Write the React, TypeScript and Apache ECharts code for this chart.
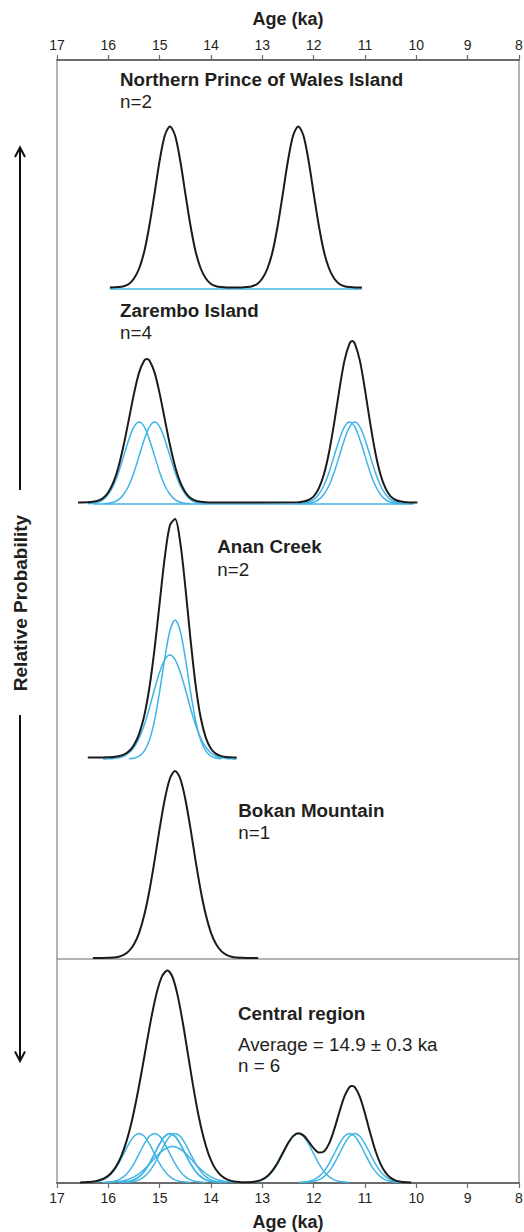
import React, { useEffect, useRef } from "react";
import * as echarts from "echarts";

const FONT = '"Liberation Sans", Arial, Helvetica, sans-serif';
const TEXT_COLOR = "#231f20";
const BLACK = "#1b1b1b";
const BLUE = "#3fb4e6";
const FRAME = "#6b6b6b";

// ---------------- Data (ages in ka, relative probability) ----------------

// Northern Prince of Wales Island (n=2)
const npwAges = [15.97, 15.8, 15.7, 15.6, 15.5, 15.4, 15.3, 15.2, 15.1, 15.0, 14.9, 14.8, 14.7, 14.6, 14.5, 14.4, 14.3, 14.2, 14.1, 14.0, 13.9, 13.8, 13.7, 13.4, 13.3, 13.2, 13.1, 13.0, 12.9, 12.8, 12.7, 12.6, 12.5, 12.4, 12.3, 12.2, 12.1, 12.0, 11.9, 11.8, 11.7, 11.6, 11.5, 11.4, 11.3, 11.2, 11.06];
const npwSum = [0, 0.4, 1.3, 3.5, 9, 19, 36, 62, 94, 127, 152, 161, 152, 127, 94, 62, 36, 19, 9, 3.5, 1.3, 0.4, 0, 0, 0.4, 1.3, 3.5, 9, 19, 36, 62, 94, 127, 152, 161, 152, 127, 94, 62, 36, 19, 9, 3.5, 1.3, 0.4, 0, 0];
const npwBaseAges = [15.97, 11.06];
const npwBaseValues = [0, 0];

// Zarembo Island (n=4)
const zarSumAges = [16.59, 16.4, 16.3, 16.2, 16.1, 16.0, 15.9, 15.8, 15.7, 15.6, 15.5, 15.4, 15.3, 15.25, 15.2, 15.1, 15.0, 14.9, 14.8, 14.7, 14.6, 14.5, 14.4, 14.3, 14.2, 14.1, 14.0, 12.3, 12.2, 12.1, 12.0, 11.9, 11.8, 11.7, 11.6, 11.5, 11.4, 11.3, 11.25, 11.2, 11.1, 11.0, 10.9, 10.8, 10.7, 10.6, 10.5, 10.4, 10.3, 10.2, 10.1, 9.98];
const zarSum = [0, 0.2, 0.7, 1.9, 4.6, 10.3, 20.3, 36.1, 57.7, 83.1, 108.9, 130.1, 141.9, 143.5, 141.9, 130.1, 108.9, 83.1, 57.7, 36.1, 20.3, 10.3, 4.6, 1.9, 0.7, 0.2, 0, 0.3, 0.9, 2.5, 6.2, 14.1, 28.2, 50.2, 79.7, 112.7, 141.9, 159.2, 161.5, 159.2, 141.9, 112.7, 79.7, 50.2, 28.2, 14.1, 6.2, 2.5, 0.9, 0.3, 0, 0];
const zarBaseAges = [16.3, 10.05];
const zarBaseValues = [0, 0];
const zarSampleAges1 = [16.4, 16.3, 16.2, 16.1, 16.0, 15.9, 15.8, 15.7, 15.6, 15.5, 15.4, 15.3, 15.2, 15.1, 15.0, 14.9, 14.8, 14.7, 14.6, 14.5, 14.4];
const zarSampleAges2 = [16.1, 16.0, 15.9, 15.8, 15.7, 15.6, 15.5, 15.4, 15.3, 15.2, 15.1, 15.0, 14.9, 14.8, 14.7, 14.6, 14.5, 14.4, 14.3, 14.2, 14.1];
const zarSampleAges3 = [12.3, 12.2, 12.1, 12.0, 11.9, 11.8, 11.7, 11.6, 11.5, 11.4, 11.3, 11.2, 11.1, 11.0, 10.9, 10.8, 10.7, 10.6, 10.5, 10.4, 10.3];
const zarSampleAges4 = [12.2, 12.1, 12.0, 11.9, 11.8, 11.7, 11.6, 11.5, 11.4, 11.3, 11.2, 11.1, 11.0, 10.9, 10.8, 10.7, 10.6, 10.5, 10.4, 10.3, 10.2];
const zarSampleValues = [0.2, 0.7, 1.8, 4.4, 9.7, 18.5, 31.7, 48.1, 64.6, 77.2, 82, 77.2, 64.6, 48.1, 31.7, 18.5, 9.7, 4.4, 1.8, 0.7, 0.2];

// Anan Creek (n=2)
const ananSumAges = [16.4, 16.1, 16.0, 15.9, 15.8, 15.7, 15.6, 15.5, 15.4, 15.3, 15.2, 15.1, 15.0, 14.9, 14.8, 14.7, 14.6, 14.5, 14.4, 14.3, 14.2, 14.1, 14.0, 13.9, 13.8, 13.7, 13.6, 13.5];
const ananSum = [0, 0, 0.2, 0.5, 1.2, 2.8, 6.2, 12.6, 23.7, 41.9, 69.8, 108.3, 154.7, 200.3, 232.3, 238.4, 215.3, 170.6, 118.7, 72.7, 39.7, 19.6, 8.8, 3.6, 1.4, 0.5, 0.2, 0];
const ananTallAges = [15.6, 15.5, 15.4, 15.3, 15.2, 15.1, 15.0, 14.9, 14.8, 14.7, 14.6, 14.5, 14.4, 14.3, 14.2, 14.1, 14.0, 13.9, 13.8];
const ananTallValues = [0.2, 0.8, 2.8, 7.8, 18.8, 38.6, 67.7, 100.9, 128.3, 139, 128.3, 100.9, 67.7, 38.6, 18.8, 7.8, 2.8, 0.8, 0.2];
const ananWideAges = [16.1, 16.0, 15.9, 15.8, 15.7, 15.6, 15.5, 15.4, 15.3, 15.2, 15.1, 15.0, 14.9, 14.8, 14.7, 14.6, 14.5, 14.4, 14.3, 14.2, 14.1, 14.0, 13.9, 13.8, 13.7, 13.6, 13.5];
const ananWideValues = [0, 0.2, 0.5, 1.2, 2.8, 6.0, 11.8, 20.9, 34.1, 51.0, 69.7, 87.0, 99.4, 104, 99.4, 87.0, 69.7, 51.0, 34.1, 20.9, 11.8, 6.0, 2.8, 1.2, 0.5, 0.2, 0];

// Bokan Mountain (n=1)
const bokanAges = [16.3, 16.1, 16.0, 15.9, 15.8, 15.7, 15.6, 15.5, 15.4, 15.3, 15.2, 15.1, 15.0, 14.9, 14.8, 14.7, 14.6, 14.5, 14.4, 14.3, 14.2, 14.1, 14.0, 13.9, 13.8, 13.7, 13.6, 13.5, 13.4, 13.3, 13.08];
const bokanValues = [0, 0, 0.2, 0.5, 1.3, 3.2, 6.9, 13.7, 25.2, 43.0, 67.3, 97.2, 129.6, 158.8, 179.5, 187, 179.5, 158.8, 129.6, 97.2, 67.3, 43.0, 25.2, 13.7, 6.9, 3.2, 1.3, 0.5, 0.2, 0, 0];

// Central region (average 14.9 ± 0.3 ka, n = 6)
const cenSumAges = [16.55, 16.45, 16.35, 16.25, 16.15, 16.05, 15.95, 15.85, 15.75, 15.65, 15.55, 15.45, 15.35, 15.25, 15.15, 15.05, 14.95, 14.85, 14.75, 14.65, 14.55, 14.45, 14.35, 14.25, 14.15, 14.05, 13.95, 13.85, 13.75, 13.65, 13.55, 13.45, 13.35, 13.2, 13.1, 13.0, 12.9, 12.8, 12.7, 12.6, 12.5, 12.4, 12.3, 12.2, 12.1, 12.0, 11.9, 11.8, 11.7, 11.6, 11.5, 11.4, 11.3, 11.25, 11.2, 11.1, 11.0, 10.9, 10.8, 10.7, 10.6, 10.5, 10.4, 10.3, 10.2, 10.1];
const cenSum = [0, 0.3, 0.6, 1.3, 2.7, 5.1, 9.3, 16.0, 26.2, 40.6, 59.8, 83.7, 111.2, 140.2, 168.0, 191.2, 206.6, 212, 205.5, 187.1, 160.0, 128.6, 97.1, 68.8, 45.9, 28.7, 16.9, 9.3, 4.8, 2.4, 1.1, 0.5, 0.3, 0.5, 1.4, 3.2, 6.6, 12.2, 20.1, 29.7, 39.2, 46.4, 49.3, 47.1, 41.2, 34.3, 29.9, 31.0, 38.9, 53.0, 70.3, 86.1, 95.6, 96.6, 95.5, 85.6, 68.9, 49.8, 32.3, 18.8, 9.8, 4.6, 1.9, 0.7, 0.2, 0];
const cenSampleAgesA = [16.4, 16.3, 16.2, 16.1, 16.0, 15.9, 15.8, 15.7, 15.6, 15.5, 15.4, 15.3, 15.2, 15.1, 15.0, 14.9, 14.8, 14.7, 14.6, 14.5, 14.4];
const cenSampleAgesB = [16.1, 16.0, 15.9, 15.8, 15.7, 15.6, 15.5, 15.4, 15.3, 15.2, 15.1, 15.0, 14.9, 14.8, 14.7, 14.6, 14.5, 14.4, 14.3, 14.2, 14.1];
const cenSampleAgesC = [15.8, 15.7, 15.6, 15.5, 15.4, 15.3, 15.2, 15.1, 15.0, 14.9, 14.8, 14.7, 14.6, 14.5, 14.4, 14.3, 14.2, 14.1, 14.0, 13.9, 13.8];
const cenSampleAgesD = [15.8, 15.7, 15.6, 15.5, 15.4, 15.3, 15.2, 15.1, 15.0, 14.9, 14.8, 14.7, 14.6, 14.5, 14.4, 14.3, 14.2, 14.1, 14.0, 13.9, 13.8];
const cenSampleAgesE = [15.7, 15.6, 15.5, 15.4, 15.3, 15.2, 15.1, 15.0, 14.9, 14.8, 14.7, 14.6, 14.5, 14.4, 14.3, 14.2, 14.1, 14.0, 13.9, 13.8, 13.7];
const cenSampleAgesG = [13.3, 13.2, 13.1, 13.0, 12.9, 12.8, 12.7, 12.6, 12.5, 12.4, 12.3, 12.2, 12.1, 12.0, 11.9, 11.8, 11.7, 11.6, 11.5, 11.4, 11.3];
const cenSampleAgesH = [12.3, 12.2, 12.1, 12.0, 11.9, 11.8, 11.7, 11.6, 11.5, 11.4, 11.3, 11.2, 11.1, 11.0, 10.9, 10.8, 10.7, 10.6, 10.5, 10.4, 10.3];
const cenSampleAgesI = [12.2, 12.1, 12.0, 11.9, 11.8, 11.7, 11.6, 11.5, 11.4, 11.3, 11.2, 11.1, 11.0, 10.9, 10.8, 10.7, 10.6, 10.5, 10.4, 10.3, 10.2];
const cenSampleValues = [0.1, 0.4, 1.1, 2.6, 5.8, 11.1, 18.9, 28.7, 38.6, 46.2, 49, 46.2, 38.6, 28.7, 18.9, 11.1, 5.8, 2.6, 1.1, 0.4, 0.1];
const cenWideAges = [16.05, 15.95, 15.85, 15.75, 15.65, 15.55, 15.45, 15.35, 15.25, 15.15, 15.05, 14.95, 14.85, 14.75, 14.65, 14.55, 14.45, 14.35, 14.25, 14.15, 14.05, 13.95, 13.85, 13.75, 13.65, 13.55, 13.45];
const cenWideValues = [0.1, 0.3, 0.7, 1.3, 2.5, 4.4, 7.2, 11.0, 15.8, 21.3, 26.8, 31.6, 34.8, 36, 34.8, 31.6, 26.8, 21.3, 15.8, 11.0, 7.2, 4.4, 2.5, 1.3, 0.7, 0.3, 0.1];

// Panel labels
const panelTitles = ["Northern Prince of Wales Island", "Zarembo Island", "Anan Creek", "Bokan Mountain", "Central region"];
const panelCounts = ["n=2", "n=4", "n=2", "n=1", "n = 6"];
const centralAverage = "Average = 14.9 ± 0.3 ka";
const axisTitle = "Age (ka)";
const yTitle = "Relative Probability";

// ---------------- Layout ----------------
type Curve = { ages: number[]; values: number[]; kind: "sum" | "sample" };

const panelCurves: Curve[][] = [
  [
    { ages: npwBaseAges, values: npwBaseValues, kind: "sample" },
    { ages: npwAges, values: npwSum, kind: "sum" },
  ],
  [
    { ages: zarBaseAges, values: zarBaseValues, kind: "sample" },
    { ages: zarSampleAges1, values: zarSampleValues, kind: "sample" },
    { ages: zarSampleAges2, values: zarSampleValues, kind: "sample" },
    { ages: zarSampleAges3, values: zarSampleValues, kind: "sample" },
    { ages: zarSampleAges4, values: zarSampleValues, kind: "sample" },
    { ages: zarSumAges, values: zarSum, kind: "sum" },
  ],
  [
    { ages: ananTallAges, values: ananTallValues, kind: "sample" },
    { ages: ananWideAges, values: ananWideValues, kind: "sample" },
    { ages: ananSumAges, values: ananSum, kind: "sum" },
  ],
  [{ ages: bokanAges, values: bokanValues, kind: "sum" }],
  [
    { ages: cenSampleAgesA, values: cenSampleValues, kind: "sample" },
    { ages: cenSampleAgesB, values: cenSampleValues, kind: "sample" },
    { ages: cenSampleAgesC, values: cenSampleValues, kind: "sample" },
    { ages: cenSampleAgesD, values: cenSampleValues, kind: "sample" },
    { ages: cenSampleAgesE, values: cenSampleValues, kind: "sample" },
    { ages: cenWideAges, values: cenWideValues, kind: "sample" },
    { ages: cenSampleAgesG, values: cenSampleValues, kind: "sample" },
    { ages: cenSampleAgesH, values: cenSampleValues, kind: "sample" },
    { ages: cenSampleAgesI, values: cenSampleValues, kind: "sample" },
    { ages: cenSumAges, values: cenSum, kind: "sum" },
  ],
];

const panelLayout = [
  { top: 60, height: 229, lift: 1.5 },
  { top: 289, height: 215, lift: 1.5 },
  { top: 504, height: 255, lift: 1.5 },
  { top: 759, height: 199, lift: 0 },
  { top: 959, height: 223.5, lift: 0 },
];

const textPos = [
  { x: 120, yTitle: 79.5, yCount: 101.8 },
  { x: 120, yTitle: 310.2, yCount: 332.8 },
  { x: 217.3, yTitle: 546.8, yCount: 569.5 },
  { x: 238.3, yTitle: 810.2, yCount: 832.8 },
  { x: 238, yTitle: 1013.5, yCount: 1065.5 },
];

const pair = (ages: number[], values: number[]) => ages.map((a, i) => [a, values[i]]);

function buildOption(): any {
  const grids: any[] = [
    {
      left: 57, right: 5, top: 60, bottom: 49,
      show: true, borderColor: FRAME, borderWidth: 1, backgroundColor: "transparent",
      containLabel: false, outerBoundsMode: "none",
    },
  ];
  const frameAxis = {
    type: "value", gridIndex: 0, min: 8, max: 17, interval: 1, inverse: true,
    axisLine: { show: true, onZero: false, lineStyle: { color: FRAME, width: 2 } },
    axisTick: { show: true, inside: false, length: 5, lineStyle: { color: FRAME, width: 1.2 } },
    axisLabel: { show: true, color: TEXT_COLOR, fontSize: 14, fontFamily: FONT, margin: 8, showMinLabel: true, showMaxLabel: true },
    splitLine: { show: false },
    name: axisTitle, nameLocation: "middle",
    nameTextStyle: { color: TEXT_COLOR, fontSize: 18, fontWeight: "bold", fontFamily: FONT },
  };
  const xAxes: any[] = [
    { ...frameAxis, position: "top", nameGap: 32 },
    { ...frameAxis, position: "bottom", nameGap: 30 },
  ];
  const yAxes: any[] = [{ type: "value", gridIndex: 0, min: 0, max: 1, show: false }];
  const series: any[] = [];

  panelLayout.forEach((p, i) => {
    grids.push({ left: 57, right: 5, top: p.top, height: p.height, containLabel: false, outerBoundsMode: "none" });
    const gi = i + 1;
    const xi = xAxes.length;
    xAxes.push({ type: "value", gridIndex: gi, min: 8, max: 17, inverse: true, show: false });
    const ySum = yAxes.length;
    yAxes.push({ type: "value", gridIndex: gi, min: -p.lift, max: p.height - p.lift, show: false });
    const ySample = yAxes.length;
    yAxes.push({ type: "value", gridIndex: gi, min: 0, max: p.height, show: false });
    panelCurves[i].forEach((c) => {
      const isSum = c.kind === "sum";
      series.push({
        type: "line",
        xAxisIndex: xi,
        yAxisIndex: isSum ? ySum : ySample,
        data: pair(c.ages, c.values),
        showSymbol: false,
        symbol: "none",
        smooth: 0.3,
        clip: false,
        silent: true,
        z: isSum ? 4 : 3,
        lineStyle: { color: isSum ? BLACK : BLUE, width: isSum ? 2 : 1.5 },
      });
    });
  });

  const titleFont = `bold 18.8px ${FONT}`;
  const bodyFont = `18.8px ${FONT}`;
  const graphics: any[] = [];
  textPos.forEach((t, i) => {
    graphics.push({
      type: "text", x: t.x, y: t.yTitle, silent: true,
      style: { text: panelTitles[i], font: titleFont, fill: TEXT_COLOR, align: "left", verticalAlign: "middle" },
    });
    graphics.push({
      type: "text", x: t.x, y: t.yCount, silent: true,
      style: { text: panelCounts[i], font: bodyFont, fill: TEXT_COLOR, align: "left", verticalAlign: "middle" },
    });
  });
  graphics.push({
    type: "text", x: 238, y: 1044.5, silent: true,
    style: { text: centralAverage, font: bodyFont, fill: TEXT_COLOR, align: "left", verticalAlign: "middle" },
  });
  // separator between Bokan Mountain and Central region
  graphics.push({
    type: "line", silent: true,
    shape: { x1: 57, y1: 959, x2: 519, y2: 959 },
    style: { stroke: FRAME, lineWidth: 1.2 },
  });
  // Relative probability arrow
  graphics.push({
    type: "text", x: 20, y: 603, rotation: Math.PI / 2, silent: true,
    style: { text: yTitle, font: `bold 19px ${FONT}`, fill: TEXT_COLOR, align: "center", verticalAlign: "middle" },
  });
  graphics.push({ type: "line", silent: true, shape: { x1: 20, y1: 148, x2: 20, y2: 490 }, style: { stroke: "#111", lineWidth: 2 } });
  graphics.push({ type: "line", silent: true, shape: { x1: 20, y1: 715, x2: 20, y2: 1061 }, style: { stroke: "#111", lineWidth: 2 } });
  graphics.push({ type: "polyline", silent: true, shape: { points: [[15, 157], [20, 147.5], [25, 157]] }, style: { stroke: "#111", lineWidth: 2, fill: null } });
  graphics.push({ type: "polyline", silent: true, shape: { points: [[15, 1051.5], [20, 1061], [25, 1051.5]] }, style: { stroke: "#111", lineWidth: 2, fill: null } });

  return {
    animation: false,
    backgroundColor: "#ffffff",
    grid: grids,
    xAxis: xAxes,
    yAxis: yAxes,
    series,
    graphic: { elements: graphics },
  };
}

export default function App() {
  const ref = useRef<HTMLDivElement>(null);
  useEffect(() => {
    document.body.style.margin = "0";
    if (!ref.current) return;
    const chart = echarts.init(ref.current, undefined, { renderer: "svg", width: 524, height: 1232 });
    chart.setOption(buildOption());
    return () => chart.dispose();
  }, []);
  return <div ref={ref} style={{ width: 524, height: 1232 }} />;
}
